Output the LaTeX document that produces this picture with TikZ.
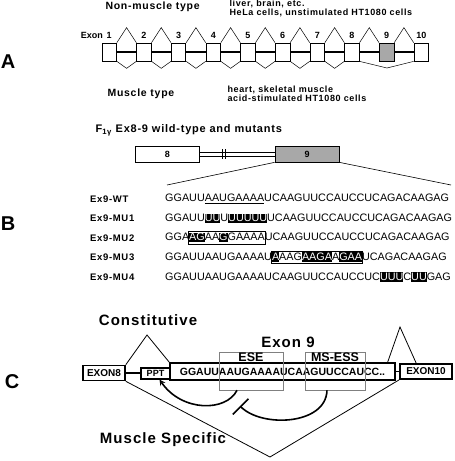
\documentclass[tikz,border=0pt]{standalone}
\usepackage{fontspec}
\setmainfont{Liberation Sans}
\newfontfamily\spacedfont[LetterSpace=7]{Liberation Sans}
\usetikzlibrary{calc,arrows.meta}
\definecolor{exongray}{gray}{0.66}
\definecolor{elemgray}{gray}{0.5}
\newsavebox\seqsave
\newsavebox\framesave
\newcommand\invseq[1]{\sbox\seqsave{#1}\rlap{\rule[-1.7pt]{\wd\seqsave}{9.8pt}}\textcolor{white}{#1}}
\newcommand\lineseq[1]{\sbox\seqsave{#1}\rlap{\rule[-2pt]{\wd\seqsave}{0.9pt}}#1}
\newcommand\boxseq[1]{\sbox\framesave{#1}\rlap{\setlength\fboxsep{0pt}\setlength\fboxrule{0.8pt}\hspace{-0.8pt}\raisebox{-3.2pt}{\fbox{\rule{0pt}{11.6pt}\hspace{\wd\framesave}}}}#1}
\begin{document}
\begin{tikzpicture}[x=1pt,y=-1pt,
    panel/.style={font=\bfseries\fontsize{20}{20}\selectfont},
    lab/.style={font=\spacedfont\bfseries\fontsize{10.5}{12}\selectfont},
    biglab/.style={font=\spacedfont\bfseries\fontsize{15}{16}\selectfont},
    note/.style={font=\spacedfont\bfseries\fontsize{9}{9}\selectfont,align=left},
    numlab/.style={font=\bfseries\fontsize{9}{10}\selectfont,inner sep=0pt},
    rowlab/.style={font=\spacedfont\bfseries\fontsize{9.5}{10}\selectfont,anchor=west,inner sep=0pt},
    seq/.style={font=\fontsize{10.8}{12}\selectfont,anchor=west,inner sep=0pt},
    exonA/.style={draw,line width=0.7pt,minimum width=14.5pt,minimum height=18pt,inner sep=0pt},
    exonB/.style={draw,line width=0.7pt,minimum width=64pt,minimum height=16pt,inner sep=0pt,font=\bfseries\fontsize{9}{10}\selectfont},
    exonC/.style={draw,line width=1.6pt,minimum height=15pt,inner sep=2pt,font=\bfseries\fontsize{10}{11}\selectfont},
    elem/.style={draw=elemgray,line width=0.6pt,minimum width=64pt,minimum height=38pt,inner sep=0pt},
    elemlab/.style={font=\bfseries\fontsize{12.5}{13}\selectfont,inner sep=1pt}]
    \useasboundingbox (0,0) rectangle (455,461);
    \node[panel] (pA) at (8,62) {A};
    \node[lab,anchor=west] (nonmus) at (102,7) {Non-muscle type};
    \node[note,anchor=west] (nonmustis) at (226,8) {liver, brain, etc.\\HeLa cells, unstimulated HT1080 cells};
    \node[lab,anchor=west] (mus) at (104,94) {Muscle type};
    \node[note,anchor=west] (mustis) at (224,93.5) {heart, skeletal muscle\\acid-stimulated HT1080 cells};
    \node[numlab,anchor=base east] (exonword) at (103,38.5) {Exon};
    \foreach \i/\f in {1/white,2/white,3/white,4/white,5/white,6/white,7/white,8/white,9/exongray,10/white}{
        \node[exonA,fill=\f] (a\i) at ({109.25+34.67*(\i-1)},52) {};
        \node[numlab,anchor=base] (n\i) at ({109.25+34.67*(\i-1)},38.5) {\i};
    }
    \foreach \i [evaluate=\i as \j using int(\i+1)] in {1,...,9}{
        \draw[line width=1.5pt] (a\i.east) -- (a\j.west);
        \draw[line width=0.5pt] (a\i.north east) -- ([yshift=15pt]$(a\i.north east)!.5!(a\j.north west)$) -- (a\j.north west);
    }
    \foreach \i [evaluate=\i as \j using int(\i+1)] in {1,...,7}{
        \draw[line width=0.5pt] (a\i.south east) -- ([yshift=-7pt]$(a\i.south east)!.5!(a\j.south west)$) -- (a\j.south west);
    }
    \coordinate (skip) at (387,68);
    \draw[line width=0.5pt] (a8.south east) -- (skip) -- (a10.south west);

    \node[panel] (pB) at (8,224) {B};
    \node[lab,font=\spacedfont\bfseries\fontsize{11}{12}\selectfont,anchor=west] (btitle) at (92,130) {F\textsubscript{1γ} Ex8-9 wild-type and mutants};
    \node[exonB] (b8) at (167.5,154) {8};
    \node[exonB,fill=exongray] (b9) at (307,154) {9};
    \draw[line width=0.5pt] ([yshift=2pt]b8.east) -- ([yshift=2pt]b9.west);
    \draw[line width=0.5pt] ([yshift=-2pt]b8.east) -- ([yshift=-2pt]b9.west);
    \draw[line width=0.8pt] (222.5,149) -- (222.5,159) (225.5,149) -- (225.5,159);
    \coordinate (zoomL) at (167,185);
    \coordinate (zoomR) at (451,185);
    \draw[line width=0.6pt] (b9.south west) -- (zoomL);
    \draw[line width=0.6pt] (b9.south east) -- (zoomR);
    \node[rowlab] (wtlab) at (90,199) {Ex9-WT};
    \node[seq] (wtseq) at (165,199) {GGAUU\lineseq{AAUGAAAA}UCAAGUUCCAUCCUCAGACAAGAG};
    \node[rowlab] (mu1lab) at (90,218.5) {Ex9-MU1};
    \node[seq] (mu1seq) at (165,218.5) {GGAUU\invseq{UU}U\invseq{UUUUU}UCAAGUUCCAUCCUCAGACAAGAG};
    \node[rowlab] (mu2lab) at (90,238) {Ex9-MU2};
    \node[seq] (mu2seq) at (165,238) {GGA\boxseq{\invseq{AG}AA\invseq{G}GAAAA}UCAAGUUCCAUCCUCAGACAAGAG};
    \node[rowlab] (mu3lab) at (90,257.5) {Ex9-MU3};
    \node[seq] (mu3seq) at (165,257.5) {GGAUUAAUGAAAAU\boxseq{\invseq{A}AAG\invseq{AAGA}A\invseq{GAA}}UCAGACAAGAG};
    \node[rowlab] (mu4lab) at (90,277) {Ex9-MU4};
    \node[seq] (mu4seq) at (165,277) {GGAUUAAUGAAAAUCAAGUUCCAUCCUC\invseq{UUU}C\invseq{UU}GAG};

    \node[panel] (pC) at (12,382) {C};
    \node[biglab] (const) at (148,320) {Constitutive};
    \node[exonC,minimum width=42pt] (ex8) at (104,373) {EXON8};
    \node[draw,line width=1.1pt,minimum width=29pt,minimum height=11pt,inner sep=0pt,font=\bfseries\fontsize{9}{10}\selectfont] (ppt) at (155.5,373.5) {PPT};
    \node[draw,line width=1.1pt,minimum width=225pt,minimum height=17pt,inner sep=0pt,font=\bfseries\fontsize{10.5}{11}\selectfont] (ex9) at (282.5,371.5) {GGAUUAAUGAAAAUCAAGUUCCAUCC..};
    \node[exonC,minimum width=52pt] (ex10) at (426,371.5) {EXON10};
    \draw[line width=1.5pt] (ex8.east) -- (ex8.east -| ppt.west);
    \draw[line width=1.2pt] (ex9.east) -- (ex9.east -| ex10.west);
    \node[elem] (ese) at (251,371) {};
    \node[elemlab,below] (eselab) at (ese.north) {ESE};
    \node[elem,minimum width=60pt] (mss) at (335,371) {};
    \node[elemlab,below] (msslab) at (mss.north) {MS-ESS};
    \node[biglab] (ex9lab) at (288,342) {Exon 9};
    \coordinate (constL) at (147,335);
    \coordinate (constR) at (400,327);
    \coordinate (musc) at (270,457);
    \draw[line width=0.8pt] (ex8.north east) -- (constL) -- (ex9.north west);
    \draw[line width=0.8pt] ([xshift=-8pt]ex9.north east) -- (constR) -- ([xshift=17pt]ex10.north west);
    \draw[line width=0.8pt] (ex8.south east) -- (musc) -- (ex10.south west);
    \node[biglab] (muscspec) at (163,440) {Muscle Specific};
    \coordinate (inhib) at (240,406);
    \draw[line width=1.6pt,-stealth] ([xshift=-14pt]ese.south) .. controls (226,412) and (182,412) .. ([xshift=4pt]ppt.south);
    \draw[line width=1.6pt,-{Bar[width=22pt]}] ([xshift=-8pt]mss.south) .. controls (326,425) and (262,428) .. (inhib);
\end{tikzpicture}
\end{document}
